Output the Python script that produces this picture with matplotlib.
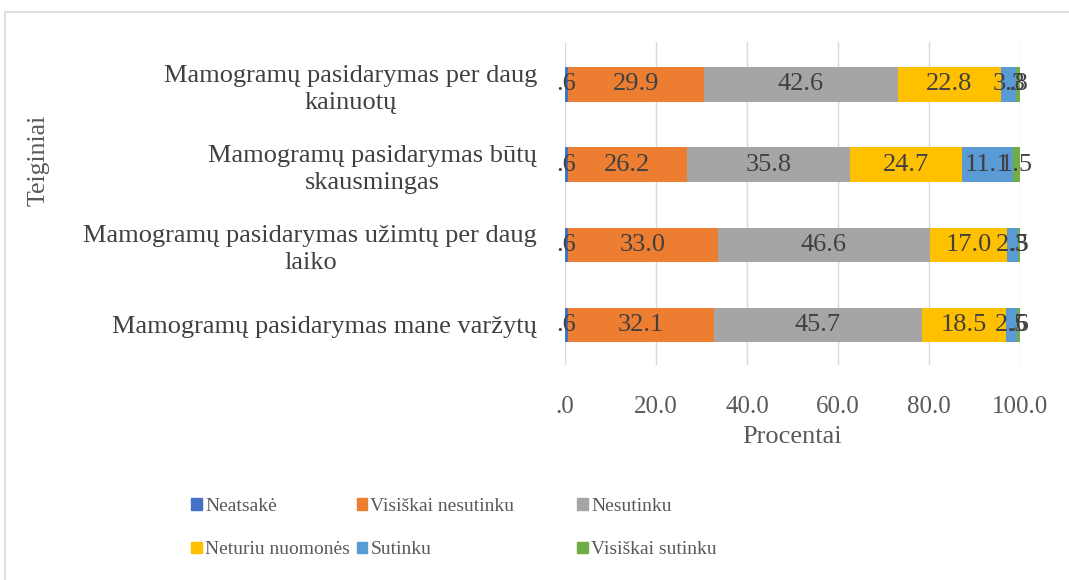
import numpy as np
import matplotlib.pyplot as plt
from matplotlib.patches import Rectangle, Patch

plt.rcParams['font.family'] = ['Liberation Serif', 'DejaVu Serif']

# duomenys
teiginiai = [
    'Mamogramų pasidarymas per daug\nkainuotų',
    'Mamogramų pasidarymas būtų\nskausmingas',
    'Mamogramų pasidarymas užimtų per daug\nlaiko',
    'Mamogramų pasidarymas mane varžytų',
]
serijos = ['Neatsakė', 'Visiškai nesutinku', 'Nesutinku',
           'Neturiu nuomonės', 'Sutinku', 'Visiškai sutinku']
neatsake = [0.6, 0.6, 0.6, 0.6]
visiskai_nesutinku = [29.9, 26.2, 33.0, 32.1]
nesutinku = [42.6, 35.8, 46.6, 45.7]
neturiu_nuomones = [22.8, 24.7, 17.0, 18.5]
sutinku = [3.3, 11.1, 2.3, 2.5]
visiskai_sutinku = [0.8, 1.5, 0.5, 0.6]
x_ticks = [0, 20, 40, 60, 80, 100]

spalvos = ['#4472C4', '#ED7D31', '#A5A5A5', '#FFC000', '#5B9BD5', '#70AD47']
reiksmes = [neatsake, visiskai_nesutinku, nesutinku,
            neturiu_nuomones, sutinku, visiskai_sutinku]


def fmt(v):
    s = '%.1f' % v
    if s.startswith('0'):
        s = s[1:]
    return s


fig = plt.figure(figsize=(10.69, 5.80), dpi=100)
ax = fig.add_axes([0.5285, 0.3707, 0.4257, 0.557])

y = np.arange(len(teiginiai))
kaire = np.zeros(len(teiginiai))
for vals, c, name in zip(reiksmes, spalvos, serijos):
    vals = np.array(vals)
    ax.barh(y, vals, left=kaire, height=0.43, color=c, label=name, zorder=2)
    for yi, l, v in zip(y, kaire, vals):
        ax.text(l + v / 2, yi, fmt(v), ha='center', va='center',
                fontsize=19, color='#404040', zorder=3)
    kaire = kaire + vals

ax.set_xlim(0, 100)
ax.set_ylim(3.5, -0.53)
ax.set_xticks(x_ticks)
ax.set_xticklabels([fmt(t) for t in x_ticks])
ax.set_yticks(y)
ax.set_yticklabels(teiginiai, multialignment='center', linespacing=1.3)
ax.tick_params(axis='x', length=0, pad=22, labelsize=18, labelcolor='#595959')
ax.tick_params(axis='y', length=0, pad=20, labelsize=19, labelcolor='#404040')
ax.grid(True, axis='x', color='#D9D9D9', linewidth=1, zorder=0)
for s in ax.spines.values():
    s.set_visible(False)

ax.set_xlabel('Procentai', fontsize=19, color='#595959', labelpad=6)
fig.text(0.036, 0.724, 'Teiginiai', rotation=90, ha='center', va='center',
         fontsize=18.5, color='#595959')

# legenda
cols = [(0.170, [0, 3]), (0.3246, [1, 4]), (0.531, [2, 5])]
for xpos, idx in cols:
    handles = [Patch(color=spalvos[i], label=serijos[i]) for i in idx]
    fig.legend(handles=handles, loc='upper left', bbox_to_anchor=(xpos, 0.158),
               frameon=False, fontsize=14, handlelength=0.55, handleheight=0.55,
               handletextpad=0.15, labelspacing=1.35, borderpad=0,
               labelcolor='#595959')

fig.patches.append(Rectangle((0.005, -0.01), 1.1, 0.99, transform=fig.transFigure,
                             fill=False, edgecolor='#D9D9D9', linewidth=1.2))

fig.savefig('out.png', dpi=100)
